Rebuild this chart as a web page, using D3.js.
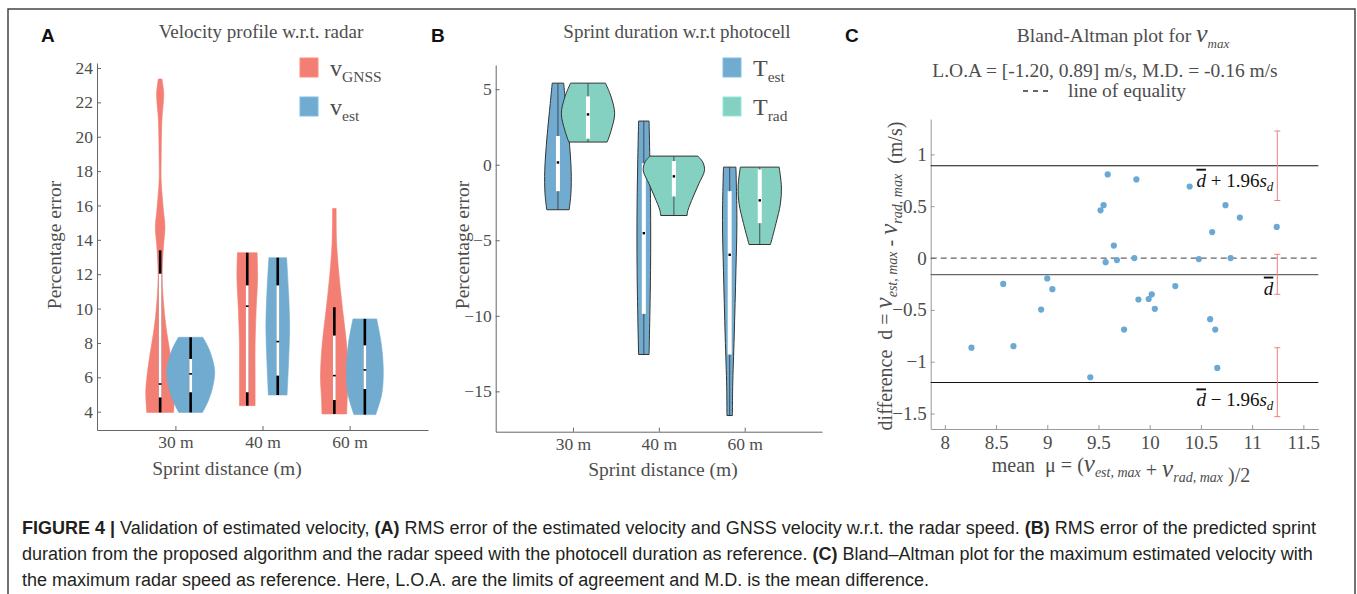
<!DOCTYPE html>
<meta charset="utf-8">
<script src="https://d3js.org/d3.v7.min.js"></script>
<style>
body { margin: 0; background: #fff; }
text { font-family: "Liberation Serif", "Times New Roman", serif; fill: #4d4d4d; white-space: pre; }
.axis text { font-size: 17.5px; font-family: "Liberation Serif", serif; fill: #4d4d4d; }
.axisC text { font-size: 19px; }
.axis path, .axis line { stroke: #666; }
.axisC path, .axisC line { stroke: #999; }
.title { font-size: 19px; }
.label { font-size: 19.5px; }
.letter { font-family: "Liberation Sans", Arial, sans-serif; font-weight: bold; font-size: 19px; fill: #111; }
.caption { font-family: "Liberation Sans", Arial, sans-serif; font-size: 18px; fill: #231f20; }
.caption .b { font-weight: bold; }
</style>
<body>
<script>

var distances = ["30 m", "40 m", "60 m"];

// ---- panel A : percentage error of velocity w.r.t. radar
// density profiles: [percentage error, relative density]
var gnssDensity = [
  [[3.96,0.53],[4.64,0.56],[5.22,0.57],[6.2,0.51],[7.36,0.40],[8.53,0.27],[9.89,0.16],[11.83,0.08],[13.58,0.13],[14.75,0.19],[15.72,0.13],[17.47,0.04],[18.64,0.04],[20.97,0.07],[22.52,0.14],[23.36,0.07]],
  [[4.35,0.31],[6.0,0.31],[7.95,0.31],[9.89,0.35],[11.84,0.41],[13.25,0.39]],
  [[3.87,0.49],[4.83,0.51],[6.0,0.55],[7.95,0.48],[9.89,0.33],[11.83,0.19],[13.78,0.09],[15.82,0.07]]
];
var gnssWhisker = [[3.96,13.39],[4.35,13.25],[3.87,10.08]];
var gnssBox = [[4.83,12.03],[5.13,11.35],[4.68,8.43]];
var gnssMedian = [5.61,10.14,6.1];

var vestDensity = [
  [[3.96,0.47],[4.64,0.70],[5.42,0.87],[6.39,0.95],[7.56,0.75],[8.33,0.48]],
  [[4.97,0.37],[6.97,0.43],[8.92,0.47],[10.86,0.43],[12.96,0.35]],
  [[3.83,0.43],[5.03,0.67],[6.39,0.73],[7.95,0.65],[9.4,0.47]]
];
var vestWhisker = [[3.96,8.33],[4.97,12.96],[3.83,9.4]];
var vestBox = [[5.13,7.07],[6.1,11.35],[5.32,7.86]];
var vestMedian = [6.2,8.08,6.43];

// ---- panel B : sprint duration w.r.t. photocell
var testDensity = [
  [[-2.98,0.45],[-1.92,0.52],[-0.38,0.53],[1.83,0.44],[4.04,0.31],[5.4,0.23]],
  [[-12.56,0.21],[-7.0,0.27],[-2.58,0.27],[2.89,0.21]],
  [[-16.6,0.11],[-14.7,0.12],[-11.4,0.18],[-7.0,0.25],[-3.69,0.29],[-0.16,0.25]]
];
var testRange = [[-2.98,5.4],[-12.56,2.89],[-16.6,-0.16]];
var testBox = [[-1.75,1.9],[-9.87,0.1],[-12.56,-1.75]];
var testMedian = [0.15,-4.53,-5.96];

var tradDensity = [
  [[1.5,0.77],[2.27,0.93],[3.38,1.07],[4.48,0.93],[5.4,0.70]],
  [[-3.36,0.53],[-3.03,0.56],[-2.14,0.77],[-1.26,1.0],[-0.38,1.23],[0.17,1.16],[0.57,0.96]],
  [[-5.28,0.43],[-3.9,0.65],[-2.58,0.83],[-1.48,0.87],[-0.16,0.78]]
];
var tradRange = [[1.5,5.4],[-3.36,0.57],[-5.28,-0.16]];
var tradBox = [[1.72,4.52],[-2.1,0.24],[-3.87,-0.31]];
var tradMedian = [3.33,-0.77,-2.36];

// ---- panel C : Bland-Altman
var meanV = [8.26,8.57,8.67,8.94,9.00,9.05,9.42,9.52,9.55,9.57,9.59,9.65,9.68,9.75,9.85,9.87,9.89,9.99,10.02,10.05,10.25,10.39,10.48,10.59,10.61,10.64,10.66,10.74,10.79,10.88,11.24];
var diffV = [-0.865,-0.25,-0.85,-0.497,-0.197,-0.30,-1.15,0.46,0.51,-0.04,0.806,0.12,-0.02,-0.69,0.0,0.758,-0.40,-0.395,-0.35,-0.49,-0.27,0.69,-0.01,-0.59,0.25,-0.69,-1.06,0.51,0.0,0.39,0.30];
var loa = [-1.20, 0.89];
var meanDiff = -0.16;
var ciX = 11.246;
var ciUpper = [0.555, 1.225], ciMean = [-0.35, 0.036], ciLower = [-1.53, -0.865];
var xTicksC = [8, 8.5, 9, 9.5, 10, 10.5, 11, 11.5];
var yTicksC = [-1.5, -1, -0.5, 0, 0.5, 1];

var red = "#f37e73", blue = "#72abd0", green = "#84d1c2";

var svg = d3.select("body").append("svg")
  .attr("width", 1357).attr("height", 594);

svg.append("rect")
  .attr("x", 8).attr("y", 9).attr("width", 1347).attr("height", 620)
  .attr("fill", "none").attr("stroke", "#444").attr("stroke-width", 1.5);

var violinWidth = 0.29, offset = 0.175;

function drawViolin(g, x, y, cat, dens, color, outlined) {
  var area = d3.area()
    .curve(d3.curveCatmullRom.alpha(0.5))
    .y(function(d) { return y(d[0]); })
    .x0(function(d) { return x(cat - d[1] * violinWidth); })
    .x1(function(d) { return x(cat + d[1] * violinWidth); });
  var p = g.append("path").attr("d", area(dens)).attr("fill", color);
  if (outlined) p.attr("stroke", "#333").attr("stroke-width", 1);
  else p.attr("stroke", color).attr("stroke-width", 0.6);
}

function drawBoxA(g, x, y, cat, wh, box, med) {
  var cx = x(cat);
  g.append("line").attr("x1", cx).attr("x2", cx)
    .attr("y1", y(wh[0])).attr("y2", y(wh[1]))
    .attr("stroke", "#000").attr("stroke-width", 2.6);
  g.append("rect").attr("x", cx - 1.4).attr("width", 2.8)
    .attr("y", y(box[1])).attr("height", y(box[0]) - y(box[1]))
    .attr("fill", "#fff");
  g.append("rect").attr("x", cx - 1.4).attr("width", 2.8)
    .attr("y", y(med) - 0.8).attr("height", 1.6).attr("fill", "#000");
}

function drawBoxB(g, x, y, cat, rng, box, med) {
  var cx = x(cat);
  g.append("line").attr("x1", cx).attr("x2", cx)
    .attr("y1", y(rng[0])).attr("y2", y(rng[1]))
    .attr("stroke", "#333").attr("stroke-width", 0.8);
  g.append("rect").attr("x", cx - 2).attr("width", 4)
    .attr("y", y(box[1])).attr("height", y(box[0]) - y(box[1]))
    .attr("fill", "#fff");
  g.append("rect").attr("x", cx - 1.2).attr("width", 2.4)
    .attr("y", y(med) - 1.2).attr("height", 2.4).attr("fill", "#000");
}

function catAxes(x, y, yTicks, baseY, leftX) {
  svg.append("g").attr("class", "axis")
    .attr("transform", "translate(0," + baseY + ")")
    .call(d3.axisBottom(x).tickValues([1, 2, 3])
      .tickFormat(function(d) { return distances[d - 1]; })
      .tickSizeInner(-4).tickSizeOuter(0).tickPadding(6));
  svg.append("g").attr("class", "axis")
    .attr("transform", "translate(" + leftX + ",0)")
    .call(d3.axisLeft(y).tickValues(yTicks)
      .tickSizeInner(-4).tickSizeOuter(0).tickPadding(4));
}

// ================= Panel A
var xA = d3.scaleLinear().domain([0.1, 3.9]).range([97, 428]);
var yA = d3.scaleLinear().domain([2.935, 24.29]).range([430, 63]);
catAxes(xA, yA, d3.range(4, 25, 2), 430, 97);

var gA = svg.append("g");
distances.forEach(function(d, i) {
  drawViolin(gA, xA, yA, i + 1 - offset, gnssDensity[i], red, false);
  drawBoxA(gA, xA, yA, i + 1 - offset, gnssWhisker[i], gnssBox[i], gnssMedian[i]);
  drawViolin(gA, xA, yA, i + 1 + offset, vestDensity[i], blue, false);
  drawBoxA(gA, xA, yA, i + 1 + offset, vestWhisker[i], vestBox[i], vestMedian[i]);
});

svg.append("text").attr("class", "letter").attr("x", 41).attr("y", 42).text("A");
svg.append("text").attr("class", "title").attr("x", 261).attr("y", 38)
  .attr("text-anchor", "middle").text("Velocity profile w.r.t. radar");
svg.append("text").attr("class", "label").attr("text-anchor", "middle")
  .attr("transform", "translate(61,245) rotate(-90)").text("Percentage error");
svg.append("text").attr("class", "label").attr("text-anchor", "middle")
  .attr("x", 227).attr("y", 475).text("Sprint distance (m)");

function legendItem(x, y, color, main, sub) {
  svg.append("rect").attr("x", x).attr("y", y).attr("width", 18).attr("height", 19)
    .attr("fill", color).attr("stroke", d3.color(color).brighter(0.3)).attr("stroke-width", 1);
  var t = svg.append("text").attr("x", x + 30).attr("y", y + 18).style("font-size", "24px");
  t.append("tspan").text(main);
  t.append("tspan").attr("dy", 6).style("font-size", "15.5px").text(sub);
}
legendItem(300, 58, red, "v", "GNSS");
legendItem(300, 97, blue, "v", "est");

// ================= Panel B
var xB = d3.scaleLinear().domain([0.1, 3.9]).range([495.7, 822]);
var yB = d3.scaleLinear().domain([-17.67, 6.6]).range([431.7, 65]);
catAxes(xB, yB, [-15, -10, -5, 0, 5], 431.7, 495.7);

var gB = svg.append("g");
distances.forEach(function(d, i) {
  drawViolin(gB, xB, yB, i + 1 - offset, testDensity[i], blue, true);
  drawBoxB(gB, xB, yB, i + 1 - offset, testRange[i], testBox[i], testMedian[i]);
  drawViolin(gB, xB, yB, i + 1 + offset, tradDensity[i], green, true);
  drawBoxB(gB, xB, yB, i + 1 + offset, tradRange[i], tradBox[i], tradMedian[i]);
});

svg.append("text").attr("class", "letter").attr("x", 431).attr("y", 42).text("B");
svg.append("text").attr("class", "title").attr("x", 677).attr("y", 38)
  .attr("text-anchor", "middle").text("Sprint duration w.r.t photocell");
svg.append("text").attr("class", "label").attr("text-anchor", "middle")
  .attr("transform", "translate(469,245) rotate(-90)").text("Percentage error");
svg.append("text").attr("class", "label").attr("text-anchor", "middle")
  .attr("x", 663).attr("y", 476).text("Sprint distance (m)");
legendItem(723, 58, blue, "T", "est");
legendItem(723, 97, green, "T", "rad");

// ================= Panel C
var xC = d3.scaleLinear().domain([7.862, 11.646]).range([930.7, 1318.3]);
var yC = d3.scaleLinear().domain([-1.649, 1.34]).range([429, 119.1]);

svg.append("g").attr("class", "axis axisC")
  .attr("transform", "translate(0,429)")
  .call(d3.axisBottom(xC).tickValues(xTicksC).tickFormat(d3.format("~g"))
    .tickSizeInner(-4).tickSizeOuter(0).tickPadding(7));
svg.append("g").attr("class", "axis axisC")
  .attr("transform", "translate(930.7,0)")
  .call(d3.axisLeft(yC).tickValues(yTicksC).tickFormat(d3.format("~g"))
    .tickSizeInner(-4).tickSizeOuter(0).tickPadding(4));

var gC = svg.append("g");
function hLine(v) {
  return gC.append("line").attr("x1", xC.range()[0]).attr("x2", xC.range()[1])
    .attr("y1", yC(v)).attr("y2", yC(v));
}
hLine(0).attr("stroke", "#666").attr("stroke-width", 1.2).attr("stroke-dasharray", "6,4");
hLine(meanDiff).attr("stroke", "#666").attr("stroke-width", 1.4);
hLine(loa[0]).attr("stroke", "#111").attr("stroke-width", 1.1);
hLine(loa[1]).attr("stroke", "#111").attr("stroke-width", 1.1);

gC.selectAll("circle").data(meanV).enter().append("circle")
  .attr("cx", function(d) { return xC(d); })
  .attr("cy", function(d, i) { return yC(diffV[i]); })
  .attr("r", 3.1).attr("fill", "#6aa9d4");

[ciUpper, ciMean, ciLower].forEach(function(ci) {
  var cx = xC(ciX);
  gC.append("line").attr("x1", cx).attr("x2", cx).attr("y1", yC(ci[0])).attr("y2", yC(ci[1]))
    .attr("stroke", "#f07f7f").attr("stroke-width", 1);
  ci.forEach(function(v) {
    gC.append("line").attr("x1", cx - 3).attr("x2", cx + 3).attr("y1", yC(v)).attr("y2", yC(v))
      .attr("stroke", "#f07f7f").attr("stroke-width", 1);
  });
});

function dLabel(v, dy, suffix) {
  var t = gC.append("text").attr("x", xC(ciX) - 4).attr("y", yC(v) + dy)
    .attr("text-anchor", "end").style("font-size", "19px").style("fill", "#111");
  t.append("tspan").style("font-style", "italic").style("text-decoration", "overline").text("d");
  if (suffix) {
    t.append("tspan").text(suffix);
    t.append("tspan").style("font-style", "italic").text("s");
    t.append("tspan").attr("dy", 4).style("font-style", "italic").style("font-size", "13px").text("d");
  }
}
dLabel(loa[1], 21, " + 1.96");
dLabel(meanDiff, 20, null);
dLabel(loa[0], 24, " \u2212 1.96");

svg.append("text").attr("class", "letter").attr("x", 845).attr("y", 42).text("C");

var tc = svg.append("text").attr("x", 1123).attr("y", 42).attr("text-anchor", "middle")
  .style("font-size", "19.5px");
tc.append("tspan").text("Bland-Altman plot for ");
tc.append("tspan").style("font-style", "italic").style("font-size", "26px").text("v");
tc.append("tspan").attr("dy", 6).style("font-style", "italic").style("font-size", "13px").text("max");

svg.append("text").attr("x", 1105).attr("y", 77).attr("text-anchor", "middle")
  .style("font-size", "19.5px").text("L.O.A = [-1.20, 0.89] m/s, M.D. = -0.16 m/s");
svg.append("line").attr("x1", 1023).attr("x2", 1049).attr("y1", 91).attr("y2", 91)
  .attr("stroke", "#333").attr("stroke-width", 1.3).attr("stroke-dasharray", "5,5");
svg.append("text").attr("x", 1068).attr("y", 97).style("font-size", "19.5px").text("line of equality");

function vSub(t, sub) {
  t.append("tspan").style("font-style", "italic").style("font-size", "25px").text("v");
  t.append("tspan").attr("dy", 5).style("font-style", "italic").style("font-size", "14px").text(sub);
  t.append("tspan").attr("dy", -5).text("");
}

var yl = svg.append("text").attr("text-anchor", "middle").style("font-size", "20px")
  .attr("transform", "translate(892,276) rotate(-90)");
yl.append("tspan").text("difference  d = ");
vSub(yl, "est, max");
yl.append("tspan").text(" - ");
vSub(yl, "rad, max");
yl.append("tspan").text("  (m/s)");

var xl = svg.append("text").attr("x", 1121).attr("y", 472).attr("text-anchor", "middle")
  .style("font-size", "20px");
xl.append("tspan").text("mean  \u03bc = (");
vSub(xl, "est, max");
xl.append("tspan").text(" + ");
vSub(xl, "rad, max");
xl.append("tspan").text(" )/2");

// ================= caption
var caption = [
  [["b", "FIGURE 4 | "], ["", "Validation of estimated velocity, "], ["b", "(A)"],
   ["", " RMS error of the estimated velocity and GNSS velocity w.r.t. the radar speed. "], ["b", "(B)"],
   ["", " RMS error of the predicted sprint"]],
  [["", "duration from the proposed algorithm and the radar speed with the photocell duration as reference. "],
   ["b", "(C)"], ["", " Bland\u2013Altman plot for the maximum estimated velocity with"]],
  [["", "the maximum radar speed as reference. Here, L.O.A. are the limits of agreement and M.D. is the mean difference."]]
];
caption.forEach(function(line, i) {
  var t = svg.append("text").attr("class", "caption").attr("x", 22).attr("y", 534 + i * 26);
  line.forEach(function(part) {
    t.append("tspan").attr("class", part[0]).text(part[1]);
  });
});

</script>
</body>
